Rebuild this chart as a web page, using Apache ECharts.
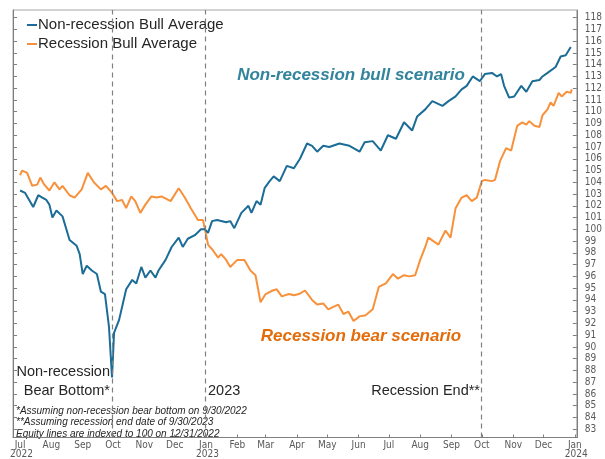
<!DOCTYPE html>
<html>
<head>
<meta charset="utf-8">
<title>Bull vs bear scenarios</title>
<script src="https://cdn.jsdelivr.net/npm/echarts@6/dist/echarts.min.js"></script>
<style>
  html, body { margin: 0; padding: 0; background: #fff; }
  #main { width: 605px; height: 459px; }
</style>
</head>
<body>
<div id="main"></div>
<script>
// Non-recession bull average (indexed to 100 on 12/31/2022)
var nonRecDates = ['2022-07-01','2022-07-06','2022-07-14','2022-07-19','2022-07-23','2022-07-27','2022-07-30','2022-08-02','2022-08-06','2022-08-12',
  '2022-08-19','2022-08-26','2022-08-29','2022-09-01','2022-09-05','2022-09-10','2022-09-15','2022-09-19','2022-09-23','2022-09-27',
  '2022-09-30','2022-10-02','2022-10-07','2022-10-14','2022-10-20','2022-10-24','2022-10-29','2022-11-02','2022-11-07','2022-11-12',
  '2022-11-15','2022-11-22','2022-11-28','2022-12-05','2022-12-09','2022-12-14','2022-12-21','2022-12-27','2022-12-31','2023-01-03',
  '2023-01-07','2023-01-12','2023-01-21','2023-01-25','2023-01-29','2023-02-05','2023-02-12','2023-02-15','2023-02-20','2023-02-24',
  '2023-02-28','2023-03-05','2023-03-09','2023-03-15','2023-03-22','2023-03-29','2023-04-04','2023-04-11','2023-04-16','2023-04-21',
  '2023-04-27','2023-05-03','2023-05-13','2023-05-23','2023-06-02','2023-06-07','2023-06-15','2023-06-23','2023-06-30','2023-07-08',
  '2023-07-16','2023-07-24','2023-07-29','2023-08-06','2023-08-13','2023-08-23','2023-08-29','2023-09-05','2023-09-11','2023-09-16',
  '2023-09-22','2023-09-29','2023-10-04','2023-10-11','2023-10-16','2023-10-20','2023-10-23','2023-10-28','2023-11-02','2023-11-09',
  '2023-11-14','2023-11-20','2023-11-27','2023-11-30','2023-12-05','2023-12-13','2023-12-18','2023-12-23','2023-12-28'];
var nonRecValues = [103.3,103.1,101.9,102.9,102.7,102.5,102.1,101.0,101.6,101.1,
  99.1,98.6,97.9,96.2,96.9,96.5,96.2,94.7,94.5,91.7,
  87.4,91.2,92.3,94.9,95.7,95.4,96.8,95.9,96.5,95.9,
  96.5,97.4,98.5,99.3,98.5,99.2,99.5,100.0,100.0,99.7,
  100.7,100.8,100.6,100.7,100.1,101.4,102.0,101.4,102.4,102.1,
  103.5,104.1,104.5,104.1,105.4,105.2,106.0,107.3,107.1,106.6,
  107.1,107.0,107.3,107.1,106.6,107.4,107.5,106.7,108.0,107.7,
  109.1,108.4,109.6,110.2,110.9,110.5,110.9,111.3,111.9,112.2,
  113.0,112.6,113.2,113.3,113.0,113.2,112.2,111.2,111.3,112.2,
  111.7,112.6,112.7,113.0,113.3,113.8,114.7,114.8,115.5];

// Recession bull average
var recDates = ['2022-07-01','2022-07-03','2022-07-08','2022-07-13','2022-07-18','2022-07-21','2022-07-25','2022-07-30','2022-08-04','2022-08-09',
  '2022-08-12','2022-08-19','2022-08-24','2022-08-31','2022-09-06','2022-09-12','2022-09-19','2022-09-24','2022-09-30','2022-10-05',
  '2022-10-10','2022-10-14','2022-10-19','2022-10-23','2022-10-28','2022-11-02','2022-11-08','2022-11-13','2022-11-18','2022-11-27',
  '2022-12-05','2022-12-11','2022-12-17','2022-12-24','2022-12-29','2022-12-31','2023-01-03','2023-01-08','2023-01-13','2023-01-16',
  '2023-01-21','2023-01-25','2023-02-01','2023-02-08','2023-02-14','2023-02-19','2023-02-24','2023-03-01','2023-03-08','2023-03-12',
  '2023-03-17','2023-03-24','2023-03-29','2023-04-03','2023-04-09','2023-04-16','2023-04-21','2023-04-27','2023-05-02','2023-05-07',
  '2023-05-12','2023-05-17','2023-05-22','2023-05-27','2023-06-02','2023-06-08','2023-06-15','2023-06-21','2023-06-28','2023-07-05',
  '2023-07-10','2023-07-16','2023-07-21','2023-07-27','2023-08-01','2023-08-06','2023-08-09','2023-08-14','2023-08-19','2023-08-26',
  '2023-08-31','2023-09-05','2023-09-11','2023-09-16','2023-09-21','2023-09-26','2023-10-01','2023-10-04','2023-10-11','2023-10-14',
  '2023-10-19','2023-10-25','2023-10-30','2023-11-05','2023-11-10','2023-11-14','2023-11-17','2023-11-22','2023-11-27','2023-11-30',
  '2023-12-05','2023-12-08','2023-12-11','2023-12-16','2023-12-19','2023-12-24','2023-12-28','2023-12-29'];
var recValues = [104.6,105.0,104.8,103.7,103.8,104.4,103.8,103.3,104.0,103.4,
  103.7,102.9,102.7,103.4,104.8,104.0,103.4,103.7,103.1,102.4,
  102.5,101.8,102.8,102.4,101.4,102.1,102.8,102.7,102.8,102.4,
  103.5,102.7,101.8,100.8,100.8,100.0,98.7,98.2,97.6,97.9,
  97.4,96.8,97.4,97.4,96.5,96.1,93.8,94.5,94.8,94.9,
  94.3,94.5,94.4,94.5,94.8,94.0,93.6,93.7,93.2,93.4,
  93.6,92.8,93.0,92.2,92.6,92.7,93.2,95.1,95.4,96.2,
  95.8,96.1,96.0,96.1,97.4,98.5,99.3,99.0,98.7,99.9,
  99.3,101.8,102.7,102.9,102.4,102.7,104.1,104.2,104.1,104.2,
  105.8,106.9,106.7,108.8,109.1,108.9,109.2,108.8,108.7,109.7,
  110.2,110.8,110.5,111.6,111.3,111.7,111.6,111.9];

// axes
var monthTicks = ['2022-07-01','2022-08-01','2022-09-01','2022-10-01','2022-11-01','2022-12-01','2023-01-01','2023-02-01','2023-03-01',
  '2023-04-01','2023-05-01','2023-06-01','2023-07-01','2023-08-01','2023-09-01','2023-10-01','2023-11-01','2023-12-01','2024-01-01'];
var monthNames = ['Jan','Feb','Mar','Apr','May','Jun','Jul','Aug','Sep','Oct','Nov','Dec'];
var yTicks = [83,84,85,86,87,88,89,90,91,92,93,94,95,96,97,98,99,100,101,102,103,104,105,106,107,108,109,110,111,112,113,114,115,116,117,118];
var eventDates = ['2022-09-30','2022-12-31','2023-09-30'];

function toTime(s) {
  var p = s.split('-');
  return new Date(+p[0], +p[1] - 1, +p[2]).getTime();
}
function pairs(dates, values) {
  var out = [];
  for (var i = 0; i < dates.length; i++) {
    out.push([toTime(dates[i]), values[i]]);
  }
  return out;
}

var BLUE = '#1b6c96';
var ORANGE = '#f8913c';
var axisFont = "'Liberation Sans Narrow', 'DejaVu Sans Condensed', sans-serif";
var textFont = "'Liberation Sans', Arial, sans-serif";

var yAxisBase = function (pos, showLabel) {
  return {
    type: 'value',
    position: pos,
    min: 82.3,
    max: 118.65,
    splitLine: { show: false },
    axisLine: { show: true, lineStyle: { color: '#7f7f7f', width: 1 } },
    axisTick: { show: true, inside: true, length: 4, customValues: yTicks, lineStyle: { color: '#7f7f7f' } },
    axisLabel: {
      show: showLabel, customValues: yTicks, margin: 8,
      color: '#595959', fontSize: 10, fontFamily: axisFont
    }
  };
};

var myChart = echarts.init(document.getElementById('main'));

var option = {
  animation: false,
  backgroundColor: '#fff',
  grid: {
    left: 13, right: 22, top: 10, bottom: 16,
    show: true, borderColor: '#a6a6a6', borderWidth: 1
  },
  legend: {
    orient: 'vertical',
    left: 22, top: 12,
    itemWidth: 10, itemHeight: 2, itemGap: 3,
    icon: 'rect',
    textStyle: { fontSize: 15, color: '#262626', fontFamily: textFont, padding: [0, 0, 0, -4], lineHeight: 16 },
    data: ['Non-recession Bull Average', 'Recession Bull Average']
  },
  xAxis: {
    type: 'value',
    min: toTime('2022-06-24'),
    max: toTime('2024-01-03'),
    splitLine: { show: false },
    axisLine: { show: true, lineStyle: { color: '#7f7f7f' } },
    axisTick: { show: true, inside: true, length: 3, customValues: monthTicks.map(toTime), lineStyle: { color: '#7f7f7f' } },
    axisLabel: {
      customValues: monthTicks.map(toTime),
      margin: 3,
      color: '#595959', fontSize: 10, lineHeight: 9, fontFamily: axisFont,
      formatter: function (val) {
        var d = new Date(val);
        var m = d.getMonth();
        var name = monthNames[m];
        if (m === 0 || (m === 6 && d.getFullYear() === 2022)) {
          return name + '\n ' + d.getFullYear();
        }
        return name;
      }
    }
  },
  yAxis: [yAxisBase('right', true), yAxisBase('left', false)],
  series: [
    {
      name: 'Non-recession Bull Average',
      type: 'line',
      symbol: 'none',
      lineStyle: { color: BLUE, width: 2 },
      itemStyle: { color: BLUE },
      data: pairs(nonRecDates, nonRecValues),
      markLine: {
        silent: true,
        symbol: ['none', 'none'],
        label: { show: false },
        lineStyle: { color: '#808080', type: [5, 4], width: 1.2 },
        data: eventDates.map(function (d) { return { xAxis: toTime(d) }; })
      },
      z: 3
    },
    {
      name: 'Recession Bull Average',
      type: 'line',
      symbol: 'none',
      lineStyle: { color: ORANGE, width: 2 },
      itemStyle: { color: ORANGE },
      data: pairs(recDates, recValues),
      z: 2
    }
  ],
  graphic: [
    { type: 'text', x: 351, y: 75, style: { text: 'Non-recession bull scenario', fill: '#31849b', font: 'italic bold 17px ' + textFont, textAlign: 'center', textVerticalAlign: 'middle' } },
    { type: 'text', x: 361, y: 336, style: { text: 'Recession bear scenario', fill: '#e46c0a', font: 'italic bold 17px ' + textFont, textAlign: 'center', textVerticalAlign: 'middle' } },
    { type: 'text', x: 110, y: 372, style: { text: 'Non-recession', fill: '#262626', font: '14.5px ' + textFont, textAlign: 'right', textVerticalAlign: 'middle' } },
    { type: 'text', x: 110, y: 391, style: { text: 'Bear Bottom*', fill: '#262626', font: '14.5px ' + textFont, textAlign: 'right', textVerticalAlign: 'middle' } },
    { type: 'text', x: 208, y: 391, style: { text: '2023', fill: '#262626', font: '14.5px ' + textFont, textAlign: 'left', textVerticalAlign: 'middle' } },
    { type: 'text', x: 480, y: 391, style: { text: 'Recession End**', fill: '#262626', font: '14.5px ' + textFont, textAlign: 'right', textVerticalAlign: 'middle' } },
    { type: 'text', x: 16, y: 411, style: { text: '*Assuming non-recession bear bottom on 9/30/2022', fill: '#262626', font: 'italic 10px ' + textFont, textVerticalAlign: 'middle' } },
    { type: 'text', x: 16, y: 422.5, style: { text: '**Assuming recession end date of 9/30/2023', fill: '#262626', font: 'italic 10px ' + textFont, textVerticalAlign: 'middle' } },
    { type: 'text', x: 16, y: 434, style: { text: 'Equity lines are indexed to 100 on 12/31/2022', fill: '#262626', font: 'italic 10px ' + textFont, textVerticalAlign: 'middle' } }
  ]
};

myChart.setOption(option);
</script>
</body>
</html>
